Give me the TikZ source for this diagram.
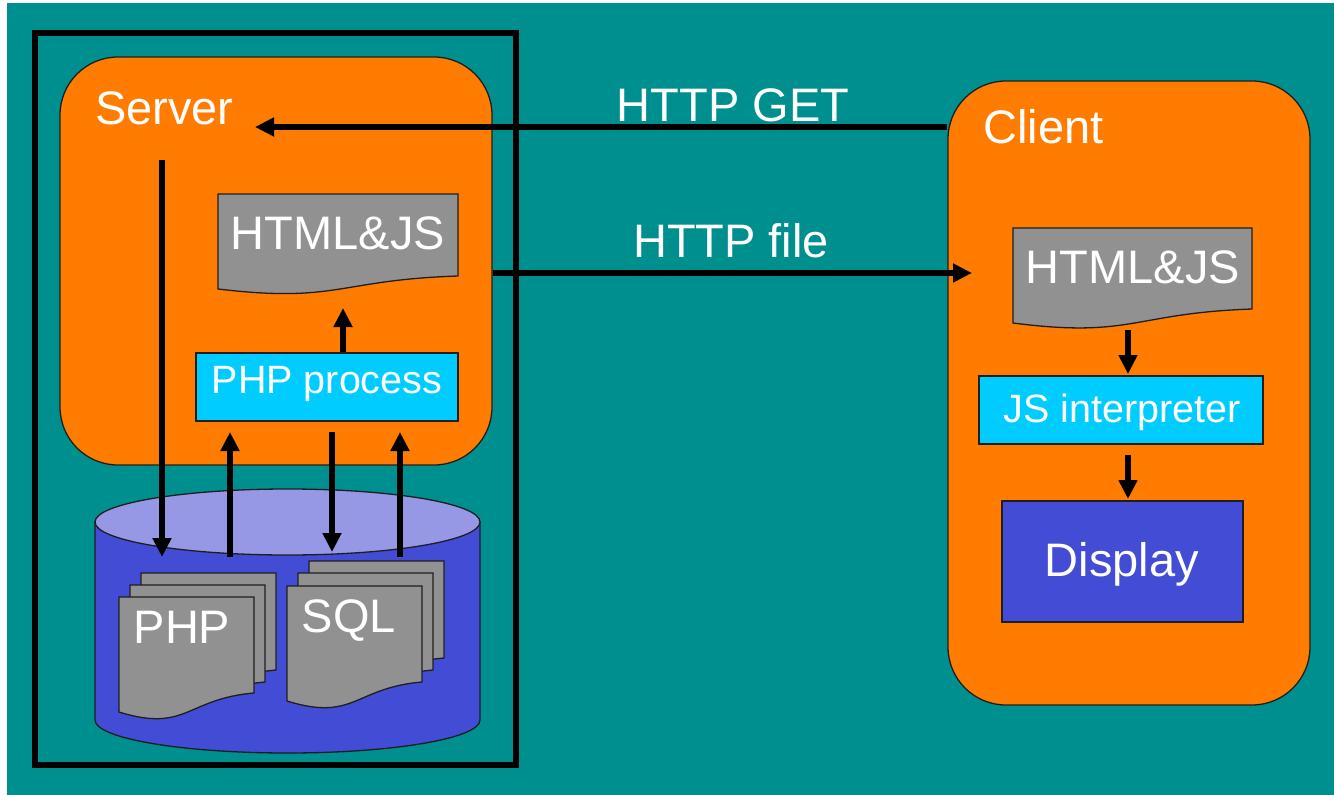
\documentclass[tikz,border=0pt]{standalone}
\usepackage{fontspec}
\setmainfont{Liberation Sans}
\usetikzlibrary{arrows.meta}
\definecolor{bgteal}{RGB}{0,143,143}
\definecolor{boxorange}{RGB}{255,124,0}
\definecolor{proccyan}{RGB}{0,204,255}
\definecolor{docgray}{RGB}{145,145,145}
\definecolor{dbblue}{RGB}{66,76,212}
\definecolor{dbtop}{RGB}{150,152,230}
\definecolor{edgedark}{RGB}{30,30,30}
\tikzset{
  edgeline/.style={draw=edgedark, line width=1.3pt},
  lbl/.style={text=white, inner sep=0pt, font=\fontsize{47}{50}\selectfont},
  lblsm/.style={text=white, inner sep=0pt, font=\fontsize{39.5}{42}\selectfont},
  arr/.style={line width=5.5pt, -{Triangle[length=19pt,width=18pt]}},
  roundbox/.style={edgeline, fill=boxorange, rounded corners=58pt, inner sep=0pt},
  procbox/.style={edgeline, fill=proccyan, inner sep=0pt},
  dispbox/.style={edgeline, fill=dbblue, inner sep=0pt},
}
\newcommand{\docsheet}[5]{%
  \filldraw[fill=docgray, edgeline] (#1,#2) -- ({#1+#3},#2) -- ({#1+#3},{#2+#4})
    .. controls ({#1+0.5*#3},{#2+#4+0.3*#5}) and ({#1+0.5*#3},{#2+#4+2.1*#5}) .. (#1,{#2+#4+#5}) -- cycle;}
\begin{document}
\begin{tikzpicture}[x=1pt,y=-1pt]
\useasboundingbox (0,0) rectangle (1334,795);
\fill[bgteal] (7,3) rectangle (1334,795);
% frame
\node[draw=black, line width=6pt, minimum width=481pt, minimum height=732pt, inner sep=0pt] (frame) at (275.5,399) {};
% big boxes
\node[roundbox, minimum width=432pt, minimum height=408pt] (server) at (276,261) {};
\node[roundbox, minimum width=362pt, minimum height=624pt] (client) at (1129,393) {};
% database cylinder
\filldraw[fill=dbblue, edgeline] (95,522) -- (95,720) arc[start angle=180, end angle=360, x radius=192.5pt, y radius=33pt] -- (480,522) -- cycle;
\filldraw[fill=dbtop, edgeline] (287.5,522) ellipse [x radius=192.5pt, y radius=33pt];
% PHP sheets
\docsheet{141}{573}{135}{97}{19}
\docsheet{130}{585}{135}{97}{19}
\docsheet{119}{597}{135}{96}{19}
% SQL sheets
\docsheet{309}{561}{135}{97}{19}
\docsheet{298}{573}{135}{97}{19}
\docsheet{287}{586}{135}{96}{19}
% HTML docs
\docsheet{218}{194}{240}{82}{13}
\docsheet{1013}{228}{239}{81}{14}
% process boxes
\node[procbox, minimum width=262pt, minimum height=68pt] (php) at (327,387) {};
\node[procbox, minimum width=284pt, minimum height=68pt] (jsi) at (1121,410) {};
\node[dispbox, minimum width=241pt, minimum height=121pt] (disp) at (1122.5,561.5) {};
% labels
\node[lbl, anchor=base west] (serverlbl) at (95,124) {Server};
\node[lbl, anchor=base west] (clientlbl) at (983,143) {Client};
\node[lbl, anchor=base] (getlbl) at (733,121) {HTTP GET};
\node[lbl, anchor=base] (filelbl) at (731,257) {HTTP file};
\node[lbl, anchor=base] (shtml) at (338,249) {HTML\&JS};
\node[lbl, anchor=base] (chtml) at (1133,283) {HTML\&JS};
\node[lblsm, anchor=base] (phplbl) at (327,393) {PHP process};
\node[lblsm, anchor=base] (jsilbl) at (1122,422) {JS interpreter};
\node[lbl, anchor=base] (displbl) at (1122,576) {Display};
\node[lbl, anchor=base] (phpfile) at (182,643) {PHP};
\node[lbl, anchor=base] (sqlfile) at (349,632) {SQL};
% arrow end points
\coordinate (getend) at (255,127);
\coordinate (fileend) at (972,273);
\coordinate (srvtop) at (162,160);
\coordinate (dbA) at (162,557);
\coordinate (dbB) at (230,557);
\coordinate (phpB) at (230,432);
\coordinate (phpC) at (332,432);
\coordinate (dbC) at (332,552);
\coordinate (dbD) at (400,557);
\coordinate (phpD) at (400,432);
\coordinate (htmlbot) at (343,308);
\coordinate (cdocbot) at (1128,330);
\coordinate (jsitop) at (1128,374);
\coordinate (jsibot) at (1128,455);
\coordinate (disptop) at (1128,499);
% arrows
\draw[arr] (client.west |- getend) -- (getend);
\draw[arr] (server.east |- fileend) -- (fileend);
\draw[arr] (srvtop) -- (dbA);
\draw[arr] (dbB) -- (phpB);
\draw[arr] (phpC) -- (dbC);
\draw[arr] (dbD) -- (phpD);
\draw[arr] (php.north -| htmlbot) -- (htmlbot);
\draw[arr] (cdocbot) -- (jsitop);
\draw[arr] (jsibot) -- (disptop);
\end{tikzpicture}
\end{document}
